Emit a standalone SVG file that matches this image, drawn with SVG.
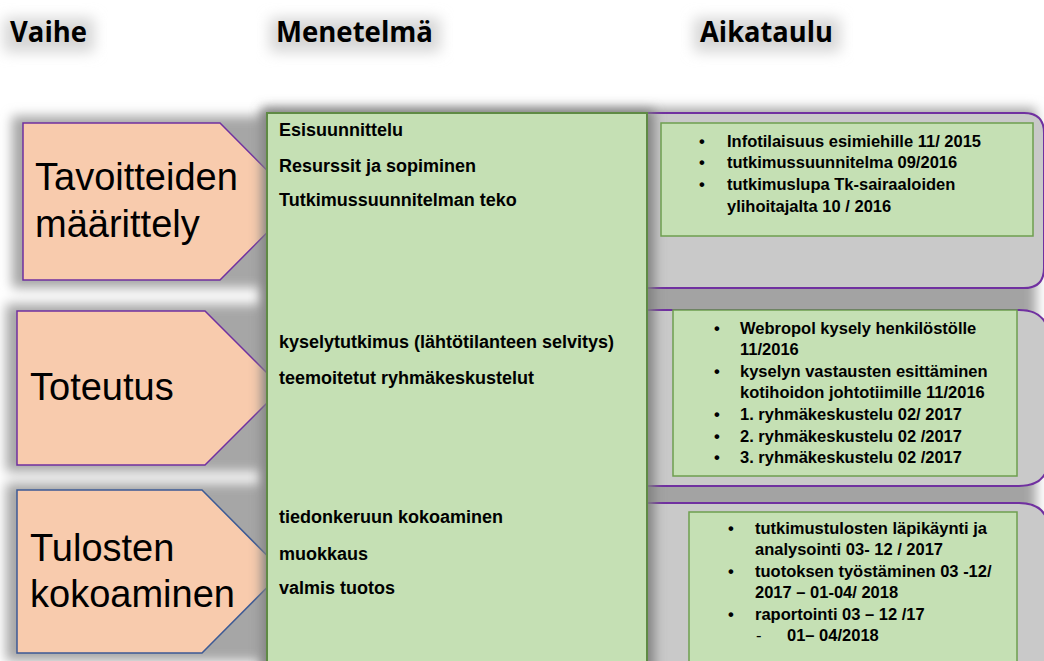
<svg xmlns="http://www.w3.org/2000/svg" width="1044" height="661" viewBox="0 0 1044 661">
<defs>
<filter id="blur" x="-15%" y="-15%" width="130%" height="130%">
<feGaussianBlur stdDeviation="6"/>
</filter>
<filter id="blur3" x="-20%" y="-60%" width="140%" height="220%">
<feGaussianBlur stdDeviation="7"/>
</filter>
</defs>
<style>
.hdr{font-family:"Open Sans","Liberation Sans",sans-serif;font-weight:700;font-size:29px;fill:#000}
.bar{fill:#c9c9c9;stroke:#7030a0;stroke-width:2}
.pent{fill:#f8cbad;stroke-width:1.5}
.ptxt{font-family:"Liberation Sans",Arial,sans-serif;font-size:38px;fill:#000}
.col{fill:#c5e0b4;stroke:#5f8a45;stroke-width:2}
.box{fill:#c5e0b4;stroke:#6e9f4f;stroke-width:1.5}
.mt{font-family:"Liberation Sans",Arial,sans-serif;font-weight:700;font-size:18px;fill:#000}
.bt{font-family:"Liberation Sans",Arial,sans-serif;font-weight:700;font-size:16.5px;fill:#000}
.dash{font-family:"Liberation Sans",Arial,sans-serif;font-size:16.5px;fill:#000}
</style>
<rect width="1044" height="661" fill="#fff"/>

<g id="header-glow" fill="#d6d6d6" filter="url(#blur3)">
<rect x="4" y="18" width="90" height="34"/>
<rect x="270" y="18" width="170" height="34"/>
<rect x="694" y="18" width="146" height="34"/>
</g>

<g id="headers">
<text class="hdr" x="10" y="42" textLength="77" lengthAdjust="spacingAndGlyphs">Vaihe</text>
<text class="hdr" x="276" y="42" textLength="157" lengthAdjust="spacingAndGlyphs">Menetelmä</text>
<text class="hdr" x="700" y="42" textLength="133" lengthAdjust="spacingAndGlyphs">Aikataulu</text>
</g>

<g id="shadows">
<rect x="262" y="108" width="774" height="570" fill="#a3a3a3" filter="url(#blur)"/>
<g fill="#a6a6a6" filter="url(#blur)">
<rect x="12" y="116" width="262" height="172"/>
<rect x="6" y="304" width="264" height="168"/>
<rect x="6" y="483" width="264" height="178"/>
</g>
</g>

<g id="bar1"><path class="bar" d="M268,113 H1024 Q1044,113 1044,133 V268 Q1044,288 1024,288 H268 Z"/></g>
<g id="bar2"><path class="bar" d="M268,310 H1019 Q1049,310 1049,340 V456 Q1049,486 1019,486 H268 Z"/></g>
<g id="bar3"><path class="bar" d="M268,503 H1019 Q1049,503 1049,533 V700 H268 Z"/></g>

<g id="phase1"><path class="pent" stroke="#7030a0" d="M23,123 H220 L298,201.5 L220,280 H23 Z"/></g>
<g id="phase2"><path class="pent" stroke="#7030a0" d="M17,311 H205 L282,388 L205,465 H17 Z"/></g>
<g id="phase3"><path class="pent" stroke="#3d5a95" d="M17,490 H202 L283,571.5 L202,653 H17 Z"/></g>

<g id="method">
<rect x="262" y="110" width="392" height="575" fill="#808080" filter="url(#blur)"/>
<rect class="col" x="267" y="113" width="380" height="570"/>
</g>

<g id="schedule1"><rect class="box" x="661" y="123" width="372" height="113"/></g>
<g id="schedule2"><rect class="box" x="673" y="310" width="344" height="166"/></g>
<g id="schedule3"><rect class="box" x="689" y="512" width="328" height="160"/></g>

<g id="phase-labels">
<text class="ptxt" x="35" y="190">Tavoitteiden</text>
<text class="ptxt" x="35" y="237">määrittely</text>
<text class="ptxt" x="30" y="400">Toteutus</text>
<text class="ptxt" x="30" y="561" font-size="36">Tulosten</text>
<text class="ptxt" x="30" y="607" font-size="36">kokoaminen</text>
</g>

<g id="method-text">
<text class="mt" x="279" y="136">Esisuunnittelu</text>
<text class="mt" x="279" y="172">Resurssit ja sopiminen</text>
<text class="mt" x="279" y="206">Tutkimussuunnitelman teko</text>
<text class="mt" x="279" y="348">kyselytutkimus (lähtötilanteen selvitys)</text>
<text class="mt" x="279" y="384">teemoitetut ryhmäkeskustelut</text>
<text class="mt" x="279" y="523">tiedonkeruun kokoaminen</text>
<text class="mt" x="279" y="560">muokkaus</text>
<text class="mt" x="279" y="594">valmis tuotos</text>
</g>

<g id="schedule-text">
<text class="bt" x="699" y="147">•</text>
<text class="bt" x="727" y="147">Infotilaisuus esimiehille 11/ 2015</text>
<text class="bt" x="699" y="168">•</text>
<text class="bt" x="727" y="168">tutkimussuunnitelma 09/2016</text>
<text class="bt" x="699" y="190">•</text>
<text class="bt" x="727" y="190">tutkimuslupa Tk-sairaaloiden</text>
<text class="bt" x="727" y="212">ylihoitajalta 10 / 2016</text>

<text class="bt" x="714" y="334">•</text>
<text class="bt" x="740" y="334">Webropol kysely henkilöstölle</text>
<text class="bt" x="740" y="355">11/2016</text>
<text class="bt" x="714" y="377">•</text>
<text class="bt" x="740" y="377">kyselyn vastausten esittäminen</text>
<text class="bt" x="740" y="398">kotihoidon johtotiimille 11/2016</text>
<text class="bt" x="714" y="420">•</text>
<text class="bt" x="740" y="420">1. ryhmäkeskustelu 02/ 2017</text>
<text class="bt" x="714" y="442">•</text>
<text class="bt" x="740" y="442">2. ryhmäkeskustelu 02 /2017</text>
<text class="bt" x="714" y="463">•</text>
<text class="bt" x="740" y="463">3. ryhmäkeskustelu 02 /2017</text>

<text class="bt" x="728" y="534">•</text>
<text class="bt" x="755" y="534">tutkimustulosten läpikäynti ja</text>
<text class="bt" x="755" y="555">analysointi 03- 12 / 2017</text>
<text class="bt" x="728" y="577">•</text>
<text class="bt" x="755" y="577">tuotoksen työstäminen 03 -12/</text>
<text class="bt" x="755" y="598">2017 –  01-04/ 2018</text>
<text class="bt" x="728" y="620">•</text>
<text class="bt" x="755" y="620">raportointi 03 – 12 /17</text>
<text class="dash" x="756" y="641">-</text>
<text class="bt" x="787" y="641">01– 04/2018</text>
</g>

<g id="connectors"/>
</svg>
